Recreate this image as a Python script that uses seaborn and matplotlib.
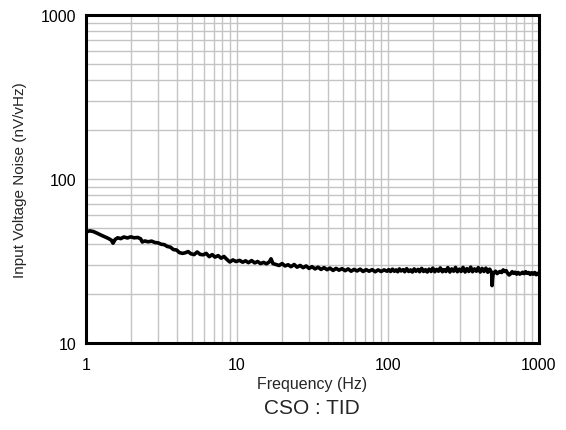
import matplotlib
matplotlib.use("Agg")
import matplotlib.pyplot as plt
import seaborn as sns
import pandas as pd
from matplotlib.ticker import LogLocator, FixedLocator, NullFormatter

freq_low = [1.00, 1.06, 1.12, 1.18, 1.25, 1.32, 1.40, 1.47, 1.51, 1.56, 1.62, 1.70, 1.78, 1.88, 1.98,
            2.08, 2.20, 2.30, 2.36, 2.45, 2.58, 2.72, 2.86, 3.00, 3.15, 3.30, 3.45, 3.62, 3.80, 3.98,
            4.15, 4.35, 4.55, 4.75, 4.95, 5.20, 5.45, 5.70, 5.98, 6.25, 6.55, 6.85, 7.15, 7.50, 7.85,
            8.20, 8.55, 8.95, 9.40, 9.85]
noise_low = [47.5, 48.3, 47.8, 46.8, 45.6, 44.6, 43.5, 42.4, 40.6, 42.8, 43.8, 43.3, 44.3, 43.7, 44.4,
             43.8, 44.0, 43.2, 41.3, 41.9, 41.4, 41.8, 41.0, 40.8, 40.0, 39.8, 38.8, 38.4, 37.1, 36.9,
             35.6, 35.2, 35.5, 36.1, 35.0, 34.6, 35.9, 34.7, 34.5, 35.2, 33.6, 34.6, 33.4, 34.1, 32.9,
             33.7, 32.4, 31.2, 32.1, 31.4]

freq_mid = [10.4, 10.9, 11.4, 11.9, 12.5, 13.1, 13.7, 14.3, 15.0, 15.7, 16.4, 16.8, 17.3, 18.1, 19.0,
            19.9, 20.8, 21.8, 22.8, 23.9, 25.0, 26.2, 27.4, 28.7, 30.0, 31.4, 32.9, 34.4, 36.0, 37.7,
            39.5, 41.3, 43.3, 45.3, 47.4, 49.6, 52.0, 54.4, 57.0, 59.6, 62.4, 65.4, 68.4, 71.6, 75.0,
            78.5, 82.2, 86.0, 90.0, 94.2, 98.6]
noise_mid = [31.9, 31.1, 31.7, 30.9, 31.8, 30.8, 31.4, 30.5, 31.0, 30.4, 31.3, 32.6, 30.5, 30.1, 29.7,
             30.5, 29.5, 30.0, 29.2, 30.1, 29.0, 29.7, 28.8, 29.5, 28.5, 29.2, 28.3, 29.0, 28.1, 28.8,
             28.0, 28.6, 27.7, 28.5, 27.8, 28.4, 27.6, 28.3, 27.4, 28.1, 27.5, 28.2, 27.3, 28.0, 27.4,
             28.0, 27.2, 27.9, 27.3, 27.9, 27.4]

freq_high = [101, 104, 107, 110, 113, 116, 119, 122, 126, 129,
             133, 137, 141, 145, 149, 153, 158, 162, 167, 172,
             177, 182, 187, 193, 198, 204, 210, 216, 222, 229,
             235, 242, 249, 257, 264, 272, 280, 288, 297, 305,
             314, 324, 333, 343, 353, 363, 374, 385, 396, 408,
             420, 432, 445, 458, 471, 480, 486, 489, 492, 497,
             505, 515, 528, 540, 553, 566, 579, 593, 606, 620,
             634, 649, 664, 680, 695, 711, 728, 745, 762, 780,
             797, 816, 835, 854, 874, 894, 915, 937, 958, 979,
             1000]
noise_high = [28.0, 27.3, 28.2, 27.4, 27.9, 27.2, 28.3, 27.5, 28.0, 27.2,
              28.4, 27.3, 27.9, 27.1, 28.3, 27.4, 28.1, 27.2, 28.5, 27.3,
              28.0, 27.1, 28.2, 27.3, 28.6, 27.2, 28.1, 27.4, 28.7, 27.2,
              28.0, 27.3, 28.8, 27.1, 28.3, 27.4, 28.9, 27.2, 28.2, 27.3,
              28.9, 27.1, 28.4, 27.3, 29.0, 27.2, 28.3, 27.4, 28.8, 27.1,
              28.5, 27.3, 28.6, 27.0, 28.2, 27.4, 26.8, 22.4, 24.5, 26.6,
              26.9, 27.4, 26.5, 27.0, 27.3, 26.9, 27.9, 27.3, 27.6, 26.6,
              26.0, 26.5, 27.2, 26.6, 27.0, 26.3, 26.9, 26.3, 26.6, 27.0,
              26.5, 27.2, 26.6, 26.9, 26.2, 26.8, 26.3, 26.9, 26.1, 26.6,
              26.0]

x_ticks = [1, 10, 100, 1000]
x_tick_labels = ["1", "10", "100", "1000"]
y_ticks = [10, 100, 1000]
y_tick_labels = ["10", "100", "1000"]

df = pd.DataFrame({
    "Frequency": freq_low + freq_mid + freq_high,
    "Noise": noise_low + noise_mid + noise_high,
})

sns.set_style("white")
plt.rcParams["font.family"] = ["Liberation Sans", "DejaVu Sans"]

fig = plt.figure(figsize=(5.66, 4.31), dpi=100)
ax = fig.add_axes([86 / 566, 1 - 344 / 431, (539 - 86) / 566, (344 - 16) / 431])

ax.set_xscale("log")
ax.set_yscale("log")
sns.lineplot(data=df, x="Frequency", y="Noise", ax=ax, color="black", linewidth=2.6,
             estimator=None, sort=False)

ax.set_xlim(1, 1000)
ax.set_ylim(10, 1000)
ax.xaxis.set_major_locator(FixedLocator(x_ticks))
ax.set_xticklabels(x_tick_labels)
ax.yaxis.set_major_locator(FixedLocator(y_ticks))
ax.set_yticklabels(y_tick_labels)
ax.xaxis.set_minor_locator(LogLocator(base=10, subs=range(2, 10)))
ax.yaxis.set_minor_locator(LogLocator(base=10, subs=range(2, 10)))
ax.xaxis.set_minor_formatter(NullFormatter())
ax.yaxis.set_minor_formatter(NullFormatter())

ax.grid(True, which="both", color="#c4c4c4", linewidth=1.0)
ax.set_axisbelow(True)
ax.tick_params(which="both", length=0, labelsize=11.5, colors="black")
ax.tick_params(axis="x", pad=10)
ax.tick_params(axis="y", pad=7)
for s in ax.spines.values():
    s.set_color("black")
    s.set_linewidth(2.2)

ax.set_xlabel("Frequency (Hz)", fontsize=11.5, labelpad=3)
ax.set_ylabel("Input Voltage Noise (nV/vHz)", fontsize=11, labelpad=10)

fig.text(312 / 566, 1 - 409 / 431, "CSO : TID", ha="center", va="center", fontsize=15)

fig.savefig("out.png", dpi=100)
